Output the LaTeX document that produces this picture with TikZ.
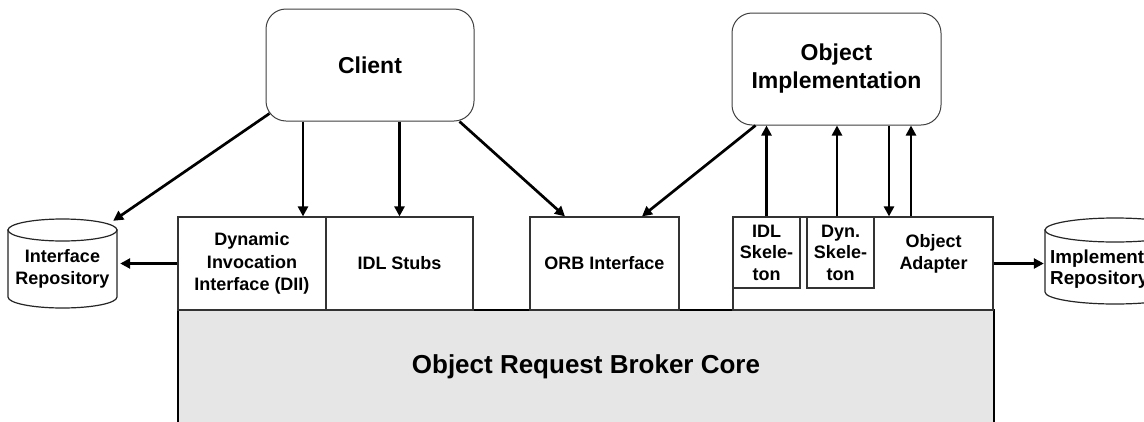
\documentclass[tikz,border=0pt]{standalone}
\usepackage{fontspec}
\setmainfont{Liberation Sans}
\usetikzlibrary{arrows.meta,calc}
\definecolor{coregray}{HTML}{E6E6E6}
\definecolor{edge}{HTML}{333333}
\begin{document}
\begin{tikzpicture}[x=1pt,y=-1pt,
  box/.style={draw=edge,line width=1.2pt,fill=white,inner sep=0pt,align=center,
    font=\fontsize{18}{22.5}\selectfont\bfseries},
  skel/.style={box,font=\fontsize{18}{21.5}\selectfont\bfseries},
  txt/.style={inner sep=0pt,align=center,font=\fontsize{18}{22}\selectfont\bfseries},
  rbox/.style={draw=black!75,line width=1pt,rounded corners=20pt,fill=white,
    inner sep=0pt,align=center,font=\fontsize{23}{28}\selectfont\bfseries},
  corebox/.style={draw=black,line width=1.3pt,fill=coregray,inner sep=0pt,
    font=\fontsize{26}{30}\selectfont\bfseries},
  cyl/.style={draw=black!85,line width=1.2pt,fill=white},
  arr/.style={line width=2.7pt,-{Triangle[length=10pt,width=10pt]}}]
\useasboundingbox (0,0) rectangle (1144,421);
\fill[white] (0,0) rectangle (1144,421);
\clip (0,0) rectangle (1144,421);

% ORB core
\node[corebox,minimum width=816,minimum height=113] (core) at (586,366.5) {Object Request Broker Core};

% interface boxes
\node[box,minimum width=148,minimum height=93] (dii) at (252,263.5) {Dynamic\\Invocation\\Interface (DII)};
\node[box,minimum width=147,minimum height=93] (stubs) at (399.5,263.5) {IDL Stubs};
\node[box,minimum width=149,minimum height=93] (orb) at (604.5,263.5) {ORB Interface};
\node[box,minimum width=260,minimum height=93] (oa) at (863,263.5) {};
\node[skel,minimum width=67,minimum height=71] (idlsk) at (766.5,252.5) {IDL\\Skele-\\ton};
\node[skel,minimum width=67,minimum height=71] (dynsk) at (840.5,252.5) {Dyn.\\Skele-\\ton};
\node[txt] (adapter) at (933.5,254) {Object\\Adapter};

% top boxes
\node[rbox,minimum width=208,minimum height=112] (client) at (370,65) {Client};
\node[rbox,minimum width=209,minimum height=112] (objimpl) at (836.5,69) {Object\\Implementation};

% interface repository cylinder
\path[cyl] (8,230) -- (8,297) .. controls (8,303.1) and (32.4,308) .. (62.5,308)
  .. controls (92.6,308) and (117,303.1) .. (117,297) -- (117,230) -- cycle;
\draw[cyl] (62.5,230) ellipse [x radius=54.5, y radius=11];
\node[txt,minimum width=109,minimum height=78] (irep) at (62.5,269) {Interface\\Repository};

% implementation repository cylinder
\path[cyl] (1045,230) -- (1045,292) .. controls (1045,298.6) and (1076.3,304) .. (1115,304)
  .. controls (1153.7,304) and (1185,298.6) .. (1185,292) -- (1185,230) -- cycle;
\draw[cyl] (1115,230) ellipse [x radius=70, y radius=12];
\node[minimum width=140,minimum height=62,inner sep=0pt] (imprep) at (1115,267) {};
\node[txt,anchor=west,align=left,font=\fontsize{18.8}{20.5}\selectfont\bfseries] (impreptext) at (1050,269) {Implementation\\Repository};

% connectors
\coordinate (pdii) at ([shift={(51,0)}]dii.north);
\coordinate (irepr) at ([shift={(3,0)}]irep.east);
\coordinate (pdyn) at ([shift={(-3.5,0)}]dynsk.north);
\coordinate (pdown) at ([shift={(26,0)}]oa.north);
\coordinate (pup) at ([shift={(48,0)}]oa.north);
\coordinate (imprepl) at ([shift={(-1,0)}]imprep.west);

\draw[arr] ([shift={(4,-8)}]client.south west) -- ([shift={(-4,-9)}]irep.north east);
\draw[arr] (pdii |- client.south) -- (pdii);
\draw[arr] (stubs.north |- client.south) -- (stubs.north);
\draw[arr] ([shift={(-15,0)}]client.south east) -- ([shift={(-39.5,0)}]orb.north);
\draw[arr] ([shift={(24,0)}]objimpl.south west) -- ([shift={(37.5,0)}]orb.north);
\draw[arr] (idlsk.north) -- (idlsk.north |- objimpl.south);
\draw[arr] (pdyn) -- (pdyn |- objimpl.south);
\draw[arr] (pdown |- objimpl.south) -- (pdown);
\draw[arr] (pup) -- (pup |- objimpl.south);
\draw[arr] (dii.west) -- (dii.west -| irepr);
\draw[arr] (oa.east) -- (oa.east -| imprepl);
\end{tikzpicture}
\end{document}
